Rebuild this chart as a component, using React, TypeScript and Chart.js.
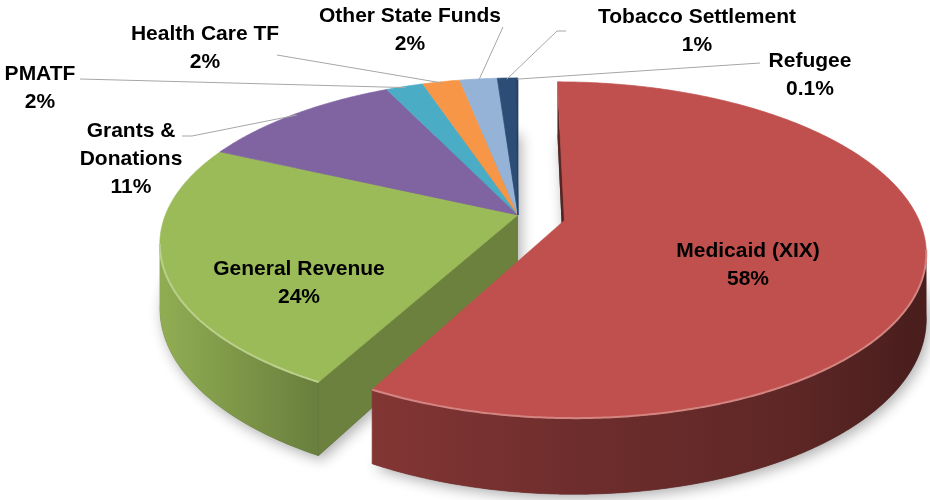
import React, { useEffect, useRef } from 'react';
import { Chart, registerables } from 'chart.js';

Chart.register(...registerables);

// ---- data ----
const categories = [
  'Medicaid (XIX)',
  'General Revenue',
  'Grants & Donations',
  'PMATF',
  'Health Care TF',
  'Other State Funds',
  'Tobacco Settlement',
  'Refugee',
];
const shares = [58, 24, 11, 2, 2, 2, 1, 0.1];
const percentLabels = ['58%', '24%', '11%', '2%', '2%', '2%', '1%', '0.1%'];

// ---- styles ----
const sliceColors = ['#C0504D', '#9BBB59', '#8064A2', '#4BACC6', '#F79646', '#95B3D7', '#2C4D75', '#243F63'];
const explodeFrac = [0.135, 0, 0, 0, 0, 0, 0, 0];
const labelBreaks: Record<string, string[]> = { 'Grants & Donations': ['Grants &', 'Donations'] };

// ---- layout ----
const STRETCH_X = 1.64;
const TILT_Y = 0.749;
const DEPTH = 0.29;
const PERSP = 0.175;
const FONT_PX = 21;
const LINE_H = 28;
const labelPos: [number, number][] = [
  [748, 257], [299, 275], [131, 137], [40, 80], [205, 40], [410, 22], [697, 23], [810, 67],
];
const leaderFrom: ([number, number][] | null)[] = [
  null, null,
  [[182, 136], [192, 136]],
  [[80, 79]],
  [[277, 55]],
  [[503, 27]],
  [[566, 31], [557, 31]],
  [[760, 63]],
];
const WALL_STOPS: [number, number][] = [[-1, 0.92], [-0.57, 0.68], [0, 0.58], [0.64, 0.49], [1, 0.38]];

function rgb(hex: string): number[] {
  const h = hex.replace('#', '');
  return [0, 2, 4].map((i) => parseInt(h.slice(i, i + 2), 16));
}
function shade(hex: string, k: number): string {
  const [r, g, b] = rgb(hex);
  return `rgb(${Math.round(r * k)},${Math.round(g * k)},${Math.round(b * k)})`;
}
function tint(hex: string, t: number): string {
  const [r, g, b] = rgb(hex);
  return `rgb(${Math.round(r + (255 - r) * t)},${Math.round(g + (255 - g) * t)},${Math.round(b + (255 - b) * t)})`;
}

function geometry(chart: any) {
  const arcs = chart.getDatasetMeta(0).data as any[];
  if (!arcs.length) return null;
  const cx = arcs[0].x, cy = arcs[0].y, R = arcs[0].outerRadius;
  const AX = R * STRETCH_X, BY = R * TILT_Y, HZ = R * DEPTH;
  const proj = (u: number, v: number, z: number): [number, number] => {
    const w = 1 - PERSP * v;
    return [cx + (AX * u) / w, cy + (BY * v + HZ * z) / w];
  };
  const slices = arcs.map((a, i) => {
    const s = a.startAngle, e = a.endAngle, m = (s + e) / 2;
    const k = explodeFrac[i] || 0;
    return { i, s, e, m, eu: k * Math.cos(m), ev: k * Math.sin(m), color: sliceColors[i] };
  });
  return { cx, cy, R, AX, proj, slices };
}

const pie3d = {
  id: 'pie3d',
  beforeDatasetsDraw(chart: any) {
    const G = geometry(chart);
    if (!G) return false;
    const { cx, AX, proj, slices } = G;
    const ctx: CanvasRenderingContext2D = chart.ctx;
    const n = slices.length;
    const exploded = (k: number) => (explodeFrac[k] || 0) > 0;
    const order = [...slices].sort((a, b) => (exploded(a.i) ? 1 : 0) - (exploded(b.i) ? 1 : 0));
    const arcPts = (g: any, a: number, b: number, z: number) => {
      const pts: [number, number][] = [];
      const steps = Math.max(2, Math.ceil(Math.abs(b - a) / 0.01));
      for (let j = 0; j <= steps; j++) {
        const t = a + ((b - a) * j) / steps;
        pts.push(proj(g.eu + Math.cos(t), g.ev + Math.sin(t), z));
      }
      return pts;
    };
    const poly = (pts: [number, number][], newPath = true) => {
      if (newPath) ctx.beginPath();
      pts.forEach(([x, y], j) => (j ? ctx.lineTo(x, y) : ctx.moveTo(x, y)));
      ctx.closePath();
    };
    const sector = (g: any, z: number) => [proj(g.eu, g.ev, z), ...arcPts(g, g.s, g.e, z)];

    ctx.save();
    // soft shadow under the whole pie
    ctx.save();
    ctx.shadowColor = 'rgba(0,0,0,0.32)';
    ctx.shadowBlur = 14;
    ctx.shadowOffsetX = 3;
    ctx.shadowOffsetY = 4;
    ctx.beginPath();
    for (const g of order) poly(sector(g, 1), false);
    ctx.fillStyle = '#555';
    ctx.fill();
    ctx.restore();

    const lo = Math.asin(PERSP), hi = Math.PI - lo;
    for (const g of order) {
      const prev = (g.i - 1 + n) % n, next = (g.i + 1) % n;
      const faces: { ang: number; nu: number; nv: number }[] = [];
      if (exploded(g.i) || exploded(prev)) faces.push({ ang: g.s, nu: Math.sin(g.s), nv: -Math.cos(g.s) });
      if (exploded(g.i) || exploded(next)) faces.push({ ang: g.e, nu: -Math.sin(g.e), nv: Math.cos(g.e) });
      for (const f of faces) {
        const pu = g.eu + 0.5 * Math.cos(f.ang), pv = g.ev + 0.5 * Math.sin(f.ang);
        const dot = f.nu * -pu + f.nv * (1 / PERSP - pv);
        if (dot <= 0) continue;
        const ru = g.eu + Math.cos(f.ang), rv = g.ev + Math.sin(f.ang);
        poly([proj(g.eu, g.ev, 0), proj(ru, rv, 0), proj(ru, rv, 1), proj(g.eu, g.ev, 1)]);
        ctx.fillStyle = shade(g.color, 0.45 + 0.5 * Math.max(0, f.nv));
        ctx.fill();
      }
      const a = Math.max(g.s, lo), b = Math.min(g.e, hi);
      if (b > a) {
        const top = arcPts(g, a, b, 0);
        const bot = arcPts(g, a, b, 1).reverse();
        poly([...top, ...bot]);
        const x0 = cx + AX * (g.eu - 1), x1 = cx + AX * (g.eu + 1);
        const grad = ctx.createLinearGradient(x0, 0, x1, 0);
        WALL_STOPS.forEach(([u, k]) => grad.addColorStop((u + 1) / 2, shade(g.color, k)));
        ctx.fillStyle = grad;
        ctx.fill();
        ctx.strokeStyle = grad;
        ctx.lineWidth = 0.6;
        ctx.stroke();
      }
    }

    for (const g of order) {
      poly(sector(g, 0));
      ctx.fillStyle = g.color;
      ctx.fill();
      ctx.strokeStyle = g.color;
      ctx.lineWidth = 0.7;
      ctx.stroke();
      const a = Math.max(g.s, lo), b = Math.min(g.e, hi);
      if (b > a) {
        ctx.beginPath();
        arcPts(g, a, b, 0).forEach(([x, y], j) => (j ? ctx.lineTo(x, y) : ctx.moveTo(x, y)));
        ctx.strokeStyle = tint(g.color, 0.3);
        ctx.lineWidth = 2;
        ctx.stroke();
      }
    }
    ctx.restore();
    return false;
  },
  afterDraw(chart: any) {
    const G = geometry(chart);
    if (!G) return;
    const { proj, slices } = G;
    const ctx: CanvasRenderingContext2D = chart.ctx;
    ctx.save();
    ctx.strokeStyle = '#A6A6A6';
    ctx.lineWidth = 1;
    slices.forEach((g) => {
      const from = leaderFrom[g.i];
      if (!from) return;
      const end = proj(g.eu + 0.99 * Math.cos(g.m), g.ev + 0.99 * Math.sin(g.m), 0);
      ctx.beginPath();
      [...from, end].forEach(([x, y], j) => (j ? ctx.lineTo(x, y) : ctx.moveTo(x, y)));
      ctx.stroke();
    });
    ctx.font = `bold ${FONT_PX}px "Liberation Sans", Arial, sans-serif`;
    ctx.fillStyle = '#000';
    ctx.textAlign = 'center';
    ctx.textBaseline = 'alphabetic';
    slices.forEach((g) => {
      const name = categories[g.i];
      const lines = [...(labelBreaks[name] || [name]), percentLabels[g.i]];
      const [x, y] = labelPos[g.i];
      lines.forEach((t, j) => ctx.fillText(t, x, y + j * LINE_H));
    });
    ctx.restore();
  },
};

export default function App() {
  const ref = useRef<HTMLCanvasElement>(null);
  useEffect(() => {
    const chart = new Chart(ref.current as HTMLCanvasElement, {
      type: 'pie',
      data: {
        labels: categories,
        datasets: [{ data: shares, backgroundColor: sliceColors, borderWidth: 0 }],
      },
      options: {
        animation: false,
        responsive: true,
        maintainAspectRatio: false,
        devicePixelRatio: 1,
        events: [],
        layout: { padding: { left: 106, right: 0, top: 0, bottom: 70 } },
        plugins: { legend: { display: false }, tooltip: { enabled: false } },
      } as any,
      plugins: [pie3d as any],
    });
    return () => chart.destroy();
  }, []);
  return (
    <div style={{ position: 'fixed', left: 0, top: 0, width: 930, height: 500, background: '#fff' }}>
      <canvas ref={ref} />
    </div>
  );
}
